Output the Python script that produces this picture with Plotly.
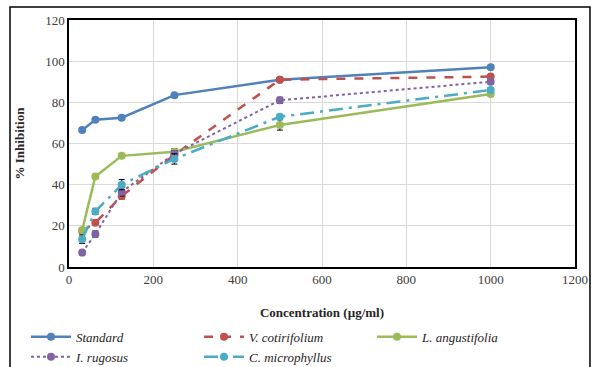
import plotly.graph_objects as go

conc = [31.25, 62.5, 125, 250, 500, 1000]
standard = [66.5, 71.5, 72.5, 83.5, 91, 97]
v_cotirifolium = [17.5, 21.5, 34.5, 54.5, 91, 92.5]
l_angustifolia = [18, 44, 54, 56, 69, 84]
i_rugosus = [7, 16, 36.5, 55, 81, 90]
c_microphyllus = [13.5, 27, 40, 52.5, 73, 86]

err_standard = [0.8, 0.8, 0.8, 0.8, 0.8, 0.8]
err_v = [1.0, 1.0, 1.5, 1.5, 1.0, 1.0]
err_l = [1.0, 1.0, 1.0, 1.5, 2.5, 1.0]
err_i = [1.0, 1.5, 2.0, 1.5, 1.5, 1.0]
err_c = [2.0, 1.5, 2.5, 2.5, 1.0, 1.0]

names = ["Standard", "V. cotirifolium", "L. angustifolia", "I. rugosus", "C. microphyllus"]
series = [standard, v_cotirifolium, l_angustifolia, i_rugosus, c_microphyllus]
errs = [err_standard, err_v, err_l, err_i, err_c]
colors = ["#4F81BD", "#C0504D", "#9BBB59", "#8064A2", "#4BACC6"]
dashes = ["solid", "dash", "solid", "dot", "14px,6px,3px,6px"]
widths = [2.5, 2.5, 2.5, 2, 2.5]

fig = go.Figure()
for n, s, e, c, d, w in zip(names, series, errs, colors, dashes, widths):
    fig.add_trace(go.Scatter(
        x=conc, y=s, name=n, mode="lines+markers",
        line=dict(color=c, dash=d, width=w),
        marker=dict(color=c, size=8, symbol="circle"),
        error_y=dict(type="data", array=e, color="black", thickness=1, width=3),
    ))

fig.update_layout(
    width=599, height=367,
    margin=dict(l=69, r=24, t=20, b=100, autoexpand=False),
    paper_bgcolor="white", plot_bgcolor="white",
    font=dict(family="Liberation Serif", size=12, color="#404040"),
    showlegend=True,
    legend=dict(
        orientation="h", x=-0.085, y=-0.222, xanchor="left", yanchor="top",
        entrywidth=118, entrywidthmode="pixels",
        font=dict(family="Liberation Serif", size=13, color="#262626", style="italic"),
        tracegroupgap=0, itemwidth=40,
    ),
    xaxis=dict(
        range=[0, 1200], dtick=200, tick0=0,
        showgrid=True, gridcolor="#D9D9D9", gridwidth=1,
        showline=True, linecolor="black", linewidth=1.5, mirror=True,
        ticks="", zeroline=False,
        tickfont=dict(family="Liberation Serif", size=13, color="#404040"),
        title=dict(text="<b>Concentration (µg/ml)</b>", standoff=22,
                   font=dict(family="Liberation Serif", size=13, color="#262626")),
    ),
    yaxis=dict(
        range=[0, 120], dtick=20, tick0=0,
        showgrid=True, gridcolor="#D9D9D9", gridwidth=1,
        showline=True, linecolor="black", linewidth=1.5, mirror=True,
        ticks="", zeroline=False,
        tickfont=dict(family="Liberation Serif", size=13, color="#404040"),
        title=dict(text="<b>% Inhibition</b>", standoff=18,
                   font=dict(family="Liberation Serif", size=13, color="#262626")),
    ),
    shapes=[dict(type="rect", xref="paper", yref="paper",
                 x0=-0.1166, x1=1.0296, y0=-0.6, y1=1.0526,
                 line=dict(color="black", width=1.5), fillcolor="rgba(0,0,0,0)",
                 layer="below")],
)

fig.write_html("out.html")
